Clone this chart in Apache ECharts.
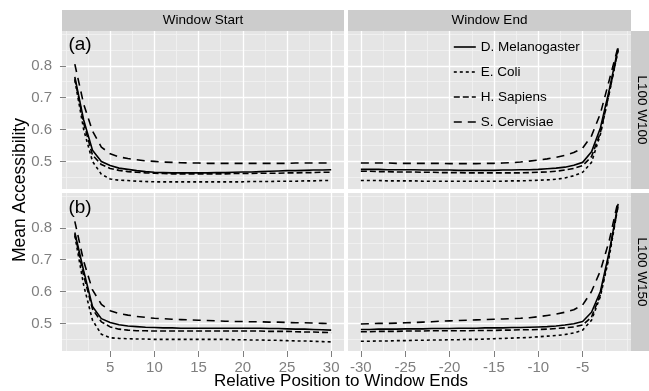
<!DOCTYPE html>
<html><head><meta charset="utf-8">
<script src="https://cdn.jsdelivr.net/npm/echarts@6/dist/echarts.min.js"></script>
<style>html,body{margin:0;padding:0;background:#fff}#c{width:649px;height:391px}</style>
</head><body><div id="c"></div>
<script>
const speciesNames = ['D. Melanogaster', 'E. Coli', 'H. Sapiens', 'S. Cervisiae'];
const facetCols = ['Window Start', 'Window End'];
const facetRows = ['L100 W100', 'L100 W150'];
const panelTags = ['(a)', '(b)'];
const xTitle = 'Relative Position to Window Ends';
const yTitle = 'Mean Accessibility';

const posStart = [1,2,3,4,5,6,7,8,9,10,11,12,13,14,15,16,17,18,19,20,21,22,23,24,25,26,27,28,29,30];
const posEnd = [-30,-29,-28,-27,-26,-25,-24,-23,-22,-21,-20,-19,-18,-17,-16,-15,-14,-13,-12,-11,-10,-9,-8,-7,-6,-5,-4,-3,-2,-1];

const startTicks = [5, 10, 15, 20, 25, 30];
const endTicks = [-30, -25, -20, -15, -10, -5];
const yTicks = [0.5, 0.6, 0.7, 0.8];
const startMinor = [0, 2.5, 7.5, 12.5, 17.5, 22.5, 27.5];
const endMinor = [-27.5, -22.5, -17.5, -12.5, -7.5, -2.5, 0];
const yMinor = [0.45, 0.55, 0.65, 0.75, 0.85, 0.9];

// L100 W100, window start
const w100StartDmel = [0.765,0.630,0.535,0.500,0.487,0.479,0.475,0.471,0.468,0.466,0.465,0.464,0.464,0.464,0.464,0.464,0.465,0.465,0.466,0.467,0.467,0.468,0.469,0.470,0.471,0.471,0.472,0.473,0.473,0.474];
const w100StartEcoli = [0.755,0.600,0.500,0.460,0.445,0.441,0.440,0.438,0.437,0.436,0.436,0.436,0.436,0.436,0.436,0.436,0.436,0.436,0.436,0.436,0.437,0.437,0.437,0.438,0.438,0.438,0.439,0.439,0.440,0.440];
const w100StartHsap = [0.760,0.620,0.520,0.490,0.478,0.472,0.468,0.466,0.464,0.463,0.462,0.461,0.461,0.461,0.461,0.461,0.461,0.461,0.462,0.462,0.462,0.463,0.463,0.463,0.464,0.464,0.465,0.465,0.466,0.466];
const w100StartScer = [0.805,0.680,0.595,0.545,0.524,0.514,0.509,0.505,0.502,0.500,0.498,0.497,0.496,0.495,0.495,0.494,0.494,0.494,0.494,0.494,0.494,0.494,0.494,0.494,0.494,0.495,0.495,0.495,0.495,0.495];
// L100 W100, window end
const w100EndDmel = [0.475,0.475,0.475,0.474,0.474,0.474,0.474,0.473,0.473,0.473,0.473,0.472,0.472,0.472,0.472,0.472,0.473,0.473,0.474,0.474,0.475,0.477,0.479,0.482,0.488,0.497,0.530,0.605,0.725,0.855];
const w100EndEcoli = [0.440,0.440,0.440,0.439,0.439,0.439,0.439,0.438,0.438,0.438,0.438,0.438,0.438,0.438,0.438,0.438,0.438,0.439,0.439,0.440,0.441,0.442,0.444,0.448,0.455,0.466,0.497,0.585,0.715,0.850];
const w100EndHsap = [0.469,0.469,0.468,0.468,0.467,0.467,0.467,0.466,0.466,0.465,0.465,0.465,0.464,0.464,0.464,0.464,0.464,0.464,0.464,0.465,0.466,0.467,0.469,0.473,0.478,0.487,0.515,0.590,0.715,0.850];
const w100EndScer = [0.495,0.495,0.495,0.495,0.494,0.494,0.494,0.494,0.494,0.494,0.493,0.493,0.493,0.493,0.494,0.494,0.495,0.496,0.498,0.501,0.504,0.508,0.513,0.519,0.528,0.542,0.580,0.650,0.755,0.860];
// L100 W150, window start
const w150StartDmel = [0.785,0.665,0.553,0.515,0.503,0.496,0.492,0.490,0.488,0.487,0.486,0.486,0.485,0.485,0.485,0.485,0.485,0.485,0.485,0.485,0.485,0.485,0.484,0.484,0.483,0.482,0.482,0.481,0.480,0.479];
const w150StartEcoli = [0.775,0.620,0.510,0.466,0.455,0.453,0.452,0.451,0.451,0.450,0.450,0.450,0.450,0.450,0.450,0.450,0.450,0.450,0.449,0.449,0.448,0.448,0.447,0.447,0.446,0.445,0.445,0.444,0.443,0.442];
const w150StartHsap = [0.780,0.650,0.545,0.505,0.489,0.482,0.479,0.477,0.477,0.476,0.476,0.476,0.476,0.476,0.476,0.476,0.476,0.476,0.476,0.476,0.476,0.476,0.475,0.475,0.475,0.474,0.473,0.473,0.472,0.471];
const w150StartScer = [0.820,0.695,0.605,0.560,0.540,0.531,0.526,0.522,0.519,0.516,0.515,0.513,0.512,0.511,0.510,0.509,0.508,0.507,0.506,0.506,0.505,0.505,0.504,0.504,0.503,0.502,0.502,0.501,0.500,0.499];
// L100 W150, window end
const w150EndDmel = [0.481,0.481,0.482,0.482,0.482,0.483,0.483,0.483,0.484,0.484,0.484,0.485,0.485,0.485,0.486,0.486,0.486,0.487,0.487,0.488,0.489,0.490,0.492,0.495,0.499,0.506,0.535,0.600,0.725,0.875];
const w150EndEcoli = [0.444,0.444,0.445,0.445,0.446,0.446,0.447,0.447,0.448,0.448,0.449,0.449,0.450,0.450,0.451,0.452,0.453,0.454,0.455,0.456,0.458,0.460,0.462,0.465,0.470,0.479,0.510,0.585,0.710,0.870];
const w150EndHsap = [0.474,0.474,0.475,0.475,0.475,0.476,0.476,0.476,0.477,0.477,0.477,0.477,0.477,0.478,0.478,0.478,0.479,0.479,0.480,0.480,0.481,0.482,0.484,0.486,0.489,0.495,0.520,0.590,0.720,0.870];
const w150EndScer = [0.498,0.499,0.500,0.500,0.501,0.502,0.503,0.504,0.505,0.507,0.508,0.509,0.510,0.511,0.512,0.513,0.514,0.515,0.516,0.518,0.521,0.525,0.529,0.535,0.543,0.558,0.600,0.665,0.760,0.885];

const FONT = 'Liberation Sans, Arial, Helvetica, sans-serif';
const TICKCOL = '#7F7F7F';
const dashes = ['solid', [3, 3], [6, 3], [8, 6]];

const panels = [
  { grid: {left: 62, top: 31, width: 282, height: 158}, pos: posStart, ticks: startTicks, minor: startMinor, xr: [-0.45, 31.45], vals: [w100StartDmel, w100StartEcoli, w100StartHsap, w100StartScer], xLab: false, yLab: true },
  { grid: {left: 348, top: 31, width: 283, height: 158}, pos: posEnd, ticks: endTicks, minor: endMinor, xr: [-31.45, 0.45], vals: [w100EndDmel, w100EndEcoli, w100EndHsap, w100EndScer], xLab: false, yLab: false },
  { grid: {left: 62, top: 193, width: 282, height: 158}, pos: posStart, ticks: startTicks, minor: startMinor, xr: [-0.45, 31.45], vals: [w150StartDmel, w150StartEcoli, w150StartHsap, w150StartScer], xLab: true, yLab: true },
  { grid: {left: 348, top: 193, width: 283, height: 158}, pos: posEnd, ticks: endTicks, minor: endMinor, xr: [-31.45, 0.45], vals: [w150EndDmel, w150EndEcoli, w150EndHsap, w150EndScer], xLab: true, yLab: false }
];
const yRange = [0.4135, 0.909];

const grid = [], xAxis = [], yAxis = [], series = [];
panels.forEach((p, i) => {
  grid.push(Object.assign({show: true, backgroundColor: '#E5E5E5', borderWidth: 0, z: 0}, p.grid));
});
// major axes 0..3
panels.forEach((p, i) => {
  xAxis.push({
    type: 'value', gridIndex: i, min: p.xr[0], max: p.xr[1], position: 'bottom', z: 2,
    axisLine: {show: false},
    axisTick: {show: p.xLab, length: 6, customValues: p.ticks, lineStyle: {color: TICKCOL, width: 1}},
    axisLabel: {show: p.xLab, customValues: p.ticks, margin: 9, color: TICKCOL, fontSize: 15, fontFamily: FONT},
    splitLine: {show: true, lineStyle: {color: '#FFFFFF', width: 1.3}}
  });
  yAxis.push({
    type: 'value', gridIndex: i, min: yRange[0], max: yRange[1], position: 'left', z: 2,
    axisLine: {show: false},
    axisTick: {show: p.yLab, length: 6, customValues: yTicks, lineStyle: {color: TICKCOL, width: 1}},
    axisLabel: {show: p.yLab, customValues: yTicks, margin: 10, color: TICKCOL, fontSize: 15, fontFamily: FONT,
      formatter: v => Number(v).toFixed(1)},
    splitLine: {show: true, lineStyle: {color: '#FFFFFF', width: 1.3}}
  });
});
// minor axes 4..7
panels.forEach((p, i) => {
  xAxis.push({
    type: 'value', gridIndex: i, min: p.xr[0], max: p.xr[1], position: 'top', z: 1,
    axisLine: {show: false}, axisTick: {show: false, customValues: p.minor}, axisLabel: {show: false, customValues: p.minor},
    splitLine: {show: true, lineStyle: {color: '#F2F2F2', width: 0.8}}
  });
  yAxis.push({
    type: 'value', gridIndex: i, min: yRange[0], max: yRange[1], position: 'right', z: 1,
    axisLine: {show: false}, axisTick: {show: false, customValues: yMinor}, axisLabel: {show: false, customValues: yMinor},
    splitLine: {show: true, lineStyle: {color: '#F2F2F2', width: 0.8}}
  });
});
panels.forEach((p, i) => {
  speciesNames.forEach((nm, s) => {
    series.push({
      type: 'line', name: nm, xAxisIndex: i, yAxisIndex: i, z: 5,
      data: p.pos.map((x, k) => [x, p.vals[s][k]]),
      symbol: 'none', showSymbol: false, silent: true,
      lineStyle: {color: '#000', width: 1.6, type: dashes[s]},
      itemStyle: {color: '#000'}
    });
  });
});

const strip = {fill: '#CCCCCC'};
const stripText = (t, x, y, rot) => ({
  type: 'text', x: x, y: y, rotation: rot || 0, z: 100,
  style: {text: t, fill: '#000', font: '13.5px ' + FONT, textAlign: 'center', textVerticalAlign: 'middle', align: 'center', verticalAlign: 'middle'}
});
const graphic = [
  {type: 'rect', z: 90, shape: {x: 62, y: 10, width: 282, height: 21}, style: strip},
  {type: 'rect', z: 90, shape: {x: 348, y: 10, width: 283, height: 21}, style: strip},
  {type: 'rect', z: 90, shape: {x: 631, y: 31, width: 22, height: 158}, style: strip},
  {type: 'rect', z: 90, shape: {x: 631, y: 193, width: 22, height: 158}, style: strip},
  stripText(facetCols[0], 203, 20.5),
  stripText(facetCols[1], 489.5, 20.5),
  stripText(facetRows[0], 641.5, 110, -Math.PI / 2),
  stripText(facetRows[1], 641.5, 272, -Math.PI / 2),
  {type: 'text', x: 80, y: 45, z: 100, style: {text: panelTags[0], fill: '#000', font: '19px ' + FONT, textAlign: 'center', textVerticalAlign: 'middle', align: 'center', verticalAlign: 'middle'}},
  {type: 'text', x: 80, y: 208, z: 100, style: {text: panelTags[1], fill: '#000', font: '19px ' + FONT, textAlign: 'center', textVerticalAlign: 'middle', align: 'center', verticalAlign: 'middle'}},
  {type: 'text', x: 20, y: 190, rotation: Math.PI / 2, z: 100, style: {text: yTitle, fill: '#000', font: '17.5px ' + FONT, textAlign: 'center', textVerticalAlign: 'middle', align: 'center', verticalAlign: 'middle'}},
  {type: 'text', x: 341, y: 381, z: 100, style: {text: xTitle, fill: '#000', font: '17px ' + FONT, textAlign: 'center', textVerticalAlign: 'middle', align: 'center', verticalAlign: 'middle'}}
];

const chart = echarts.init(document.getElementById('c'), null, {renderer: 'canvas'});
chart.setOption({
  animation: false,
  backgroundColor: '#FFFFFF',
  grid, xAxis, yAxis, series, graphic,
  legend: {
    show: true, orient: 'vertical', left: 453, top: 40, padding: 0,
    itemWidth: 22, itemHeight: 14, itemGap: 11, selectedMode: false,
    data: speciesNames,
    itemStyle: {opacity: 0},
    lineStyle: {width: 1.6},
    textStyle: {fontSize: 13.5, color: '#000', fontFamily: FONT, lineHeight: 14}
  }
});
</script></body></html>
